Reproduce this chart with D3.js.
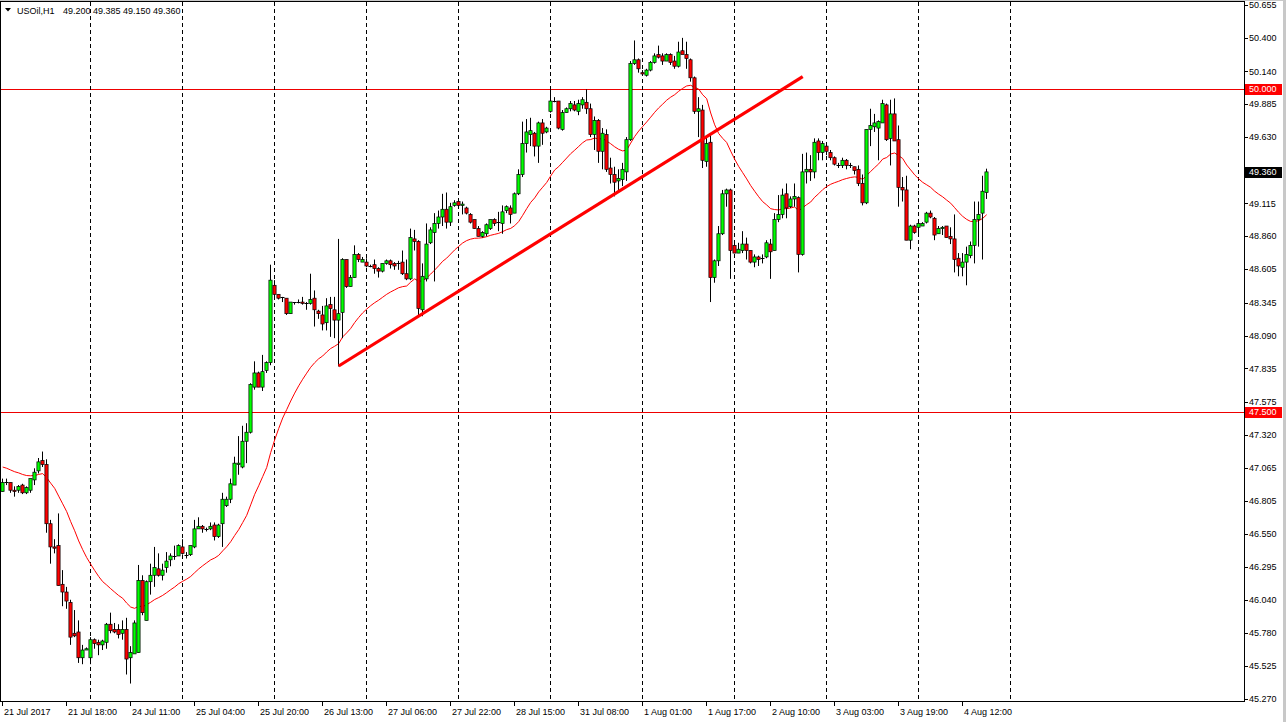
<!DOCTYPE html>
<html><head><meta charset="utf-8">
<script src="https://cdn.jsdelivr.net/npm/d3@7"></script>
<style>
body{margin:0;background:#fff}
svg{display:block}
text{font-family:"Liberation Sans",Arial,sans-serif;font-size:9px;fill:#000}
</style>
</head><body>
<svg id="chart" width="1286" height="722"></svg>
<script>
// ---- data (USOil, H1) ----
const opens=[46.88,46.95,46.95,46.89,46.89,46.93,46.87,46.89,46.97,47.04,47.12,47.09,46.63,46.45,46.46,46.16,46.10,46.02,45.78,45.79,45.59,45.65,45.59,45.73,45.71,45.69,45.71,45.85,45.81,45.81,45.78,45.81,45.59,45.62,45.63,46.19,45.88,46.18,46.23,46.28,46.23,46.29,46.35,46.38,46.38,46.45,46.39,46.39,46.45,46.59,
46.61,46.59,46.59,46.62,46.53,46.63,46.77,46.82,46.93,47.09,47.07,47.27,47.34,47.69,47.80,47.69,47.82,47.88,48.48,48.41,48.39,48.38,48.26,48.35,48.35,48.35,48.34,48.34,48.38,48.28,
48.25,48.19,48.33,48.29,48.21,48.27,48.68,48.47,48.54,48.72,48.66,48.66,48.63,48.64,48.61,48.59,48.65,48.67,48.65,48.65,48.66,48.57,48.53,48.84,48.82,48.29,48.53,48.81,48.89,48.96,
49.01,49.07,48.97,49.10,49.13,49.10,49.08,49.03,48.99,48.92,48.86,48.88,48.92,48.99,48.97,48.96,49.06,49.08,49.04,49.19,49.34,49.58,49.65,49.66,49.56,49.74,49.67,49.83,49.91,49.91,
49.69,49.82,49.85,49.88,49.83,49.88,49.90,49.85,49.65,49.76,49.52,49.65,49.39,49.34,49.29,49.30,49.36,49.61,50.20,50.23,50.13,50.11,50.15,50.21,50.27,50.26,50.22,50.27,50.22,50.18,
50.30,50.27,50.23,50.09,49.83,49.84,49.44,49.59,48.54,48.67,48.88,49.19,49.22,48.79,48.73,48.75,48.80,48.75,48.66,48.70,48.69,48.70,48.80,48.75,48.99,49.03,49.19,49.09,49.15,49.16,
48.72,49.36,49.38,49.36,49.60,49.51,49.56,49.51,49.47,49.41,49.41,49.45,49.41,49.40,49.38,49.27,49.12,49.69,49.71,49.70,49.74,49.88,49.62,49.81,49.61,49.24,49.22,48.83,48.94,48.93,
48.94,48.97,49.04,49.00,48.88,48.92,48.94,48.86,48.84,48.69,48.62,48.66,48.71,48.79,48.99,49.04,49.200];
const highs=[46.98,46.98,46.95,46.92,46.93,46.94,46.92,46.98,47.06,47.14,47.19,47.13,46.66,46.51,46.71,46.27,46.14,46.04,45.96,45.88,45.69,45.67,45.75,45.74,45.73,45.73,45.86,45.94,45.86,45.85,45.88,45.90,45.68,45.88,46.31,46.23,46.19,46.32,46.45,46.40,46.32,46.41,46.40,46.46,46.47,46.51,46.41,46.46,46.66,46.68,
46.62,46.60,46.64,46.64,46.63,46.87,46.84,46.98,47.15,47.31,47.39,47.41,47.72,47.89,47.81,47.94,47.89,48.64,48.52,48.41,48.39,48.38,48.35,48.35,48.37,48.39,48.35,48.57,48.44,48.29,
48.32,48.38,48.39,48.39,48.84,48.69,48.68,48.56,48.79,48.73,48.70,48.69,48.64,48.68,48.62,48.65,48.68,48.68,48.66,48.67,48.75,48.68,48.92,48.91,48.83,48.65,48.96,48.93,49.04,49.06,
49.19,49.20,49.12,49.14,49.14,49.13,49.09,49.04,48.99,48.94,48.90,48.96,48.99,49.00,49.05,49.10,49.10,49.10,49.20,49.38,49.75,49.77,49.78,49.67,49.75,49.77,49.71,50.00,49.94,49.91,
49.84,49.86,49.91,49.91,49.92,49.94,50.00,49.89,49.79,49.77,49.70,49.69,49.47,49.40,49.38,49.43,49.63,50.22,50.38,50.24,50.15,50.16,50.22,50.28,50.34,50.28,50.28,50.28,50.26,50.37,
50.40,50.37,50.24,50.10,49.94,49.88,49.63,49.66,48.68,48.94,49.22,49.23,49.23,48.81,48.81,48.90,48.85,48.75,48.72,48.71,48.72,48.83,48.84,49.04,49.18,49.23,49.27,49.17,49.27,49.17,
49.50,49.51,49.49,49.62,49.62,49.60,49.57,49.53,49.48,49.43,49.47,49.46,49.43,49.40,49.41,49.34,49.69,49.85,49.81,49.76,49.92,49.89,49.92,49.93,49.72,49.32,49.33,48.95,48.95,48.97,
48.97,49.05,49.06,49.01,48.94,48.94,48.94,48.93,49.03,48.73,48.73,48.78,48.82,49.13,49.13,49.33,49.385];
const lows=[46.88,46.93,46.87,46.84,46.87,46.86,46.86,46.87,46.93,47.02,47.07,46.56,46.32,46.40,46.15,45.99,45.97,45.69,45.75,45.55,45.54,45.65,45.54,45.66,45.61,45.65,45.66,45.78,45.78,45.74,45.73,45.46,45.39,45.62,45.63,45.92,45.88,46.08,46.14,46.22,46.19,46.25,46.30,46.35,46.38,46.39,46.36,46.38,46.44,46.59,
46.56,46.57,46.58,46.50,46.52,46.45,46.76,46.79,46.93,47.01,47.06,47.10,47.33,47.67,47.69,47.66,47.80,47.86,48.39,48.37,48.35,48.25,48.26,48.33,48.34,48.33,48.29,48.33,48.16,48.22,
48.13,48.13,48.08,48.07,47.85,48.07,48.46,48.47,48.54,48.66,48.66,48.62,48.62,48.57,48.54,48.58,48.64,48.61,48.60,48.60,48.56,48.52,48.52,48.75,48.24,48.24,48.51,48.80,48.51,48.92,
48.94,48.92,48.94,49.09,49.09,49.03,49.03,48.96,48.92,48.86,48.85,48.86,48.91,48.94,48.90,48.88,49.04,48.96,49.04,49.18,49.32,49.51,49.56,49.48,49.43,49.57,49.66,49.82,49.90,49.69,
49.68,49.82,49.83,49.83,49.80,49.85,49.81,49.63,49.53,49.43,49.38,49.36,49.27,49.17,49.22,49.25,49.29,49.60,50.19,50.13,50.11,50.10,50.14,50.20,50.24,50.19,50.22,50.19,50.16,50.17,
50.28,50.16,50.06,49.81,49.63,49.39,49.40,48.35,48.50,48.63,48.87,49.09,48.53,48.73,48.73,48.73,48.68,48.65,48.62,48.63,48.65,48.69,48.53,48.75,48.97,49.00,49.00,49.08,49.09,48.58,
48.71,49.27,49.29,49.31,49.45,49.45,49.49,49.45,49.41,49.39,49.39,49.38,49.39,49.34,49.25,49.10,49.11,49.56,49.67,49.45,49.74,49.60,49.41,49.60,49.09,49.13,48.83,48.76,48.88,48.88,
48.94,48.96,49.00,48.83,48.88,48.87,48.85,48.80,48.58,48.55,48.55,48.48,48.69,48.65,48.78,48.68,49.150];
const closes=[46.95,46.95,46.89,46.88,46.92,46.87,46.91,46.98,47.03,47.11,47.09,46.63,46.45,46.44,46.15,46.10,46.03,45.75,45.76,45.59,45.65,45.66,45.73,45.70,45.69,45.72,45.85,45.80,45.79,45.77,45.81,45.58,45.63,45.86,46.19,45.94,46.18,46.23,46.29,46.23,46.27,46.34,46.38,46.38,46.46,46.40,46.39,46.46,46.59,46.61,
46.59,46.59,46.61,46.53,46.62,46.82,46.82,46.94,47.10,47.10,47.27,47.34,47.71,47.80,47.69,47.81,47.88,48.52,48.41,48.38,48.39,48.26,48.35,48.35,48.35,48.34,48.34,48.37,48.29,48.26,
48.18,48.32,48.30,48.21,48.26,48.68,48.47,48.54,48.72,48.68,48.68,48.63,48.63,48.61,48.59,48.65,48.67,48.64,48.63,48.65,48.57,48.53,48.85,48.82,48.30,48.55,48.80,48.91,48.96,49.01,
49.07,48.97,49.09,49.12,49.10,49.11,49.04,48.97,48.92,48.86,48.89,48.95,48.99,48.96,48.97,49.05,49.09,49.03,49.19,49.34,49.58,49.67,49.68,49.56,49.74,49.66,49.70,49.91,49.91,49.70,
49.82,49.85,49.89,49.84,49.89,49.92,49.85,49.65,49.76,49.52,49.66,49.38,49.34,49.28,49.31,49.38,49.61,50.20,50.23,50.16,50.12,50.15,50.21,50.26,50.25,50.22,50.27,50.21,50.18,50.29,
50.27,50.24,50.09,49.83,49.85,49.45,49.58,48.54,48.67,48.88,49.19,49.22,48.75,48.73,48.76,48.80,48.75,48.66,48.70,48.68,48.69,48.81,48.74,48.99,49.03,49.18,49.08,49.15,49.17,48.72,
49.36,49.38,49.36,49.59,49.51,49.58,49.52,49.47,49.42,49.41,49.45,49.41,49.41,49.37,49.27,49.12,49.69,49.72,49.74,49.75,49.89,49.61,49.81,49.60,49.24,49.22,48.83,48.94,48.89,48.96,
48.96,49.04,49.01,48.87,48.92,48.93,48.85,48.84,48.68,48.63,48.66,48.72,48.79,48.99,49.03,49.21,49.360];

const timeLabels=["21 Jul 2017","21 Jul 18:00","24 Jul 11:00","25 Jul 04:00","25 Jul 20:00","26 Jul 13:00","27 Jul 06:00","27 Jul 22:00","28 Jul 15:00","31 Jul 08:00","1 Aug 01:00","1 Aug 17:00","2 Aug 10:00","3 Aug 03:00","3 Aug 19:00","4 Aug 12:00"];
const timeLabelBars=[0,16,32,48,64,80,96,112,128,144,160,176,192,208,224,240];
const gridBars=[22,45,68,91,114,137,160,183,206,229,252];
const priceTicks=[50.655,50.400,50.140,49.885,49.630,49.115,48.860,48.605,48.345,48.090,47.835,47.575,47.320,47.065,46.805,46.550,46.295,46.040,45.780,45.525,45.270];
const levels=[50.000,47.500];
const trendBars=[84,200];
const trendPrices=[47.854,50.099];
const emaPeriod=24;
const emaStart=47.07;
const symbol="USOil,H1";
const lastOHLC=["49.200","49.385","49.150","49.360"];

// ---- drawing ----
const svg=d3.select("#chart");
const x=d3.scaleLinear().domain([0,310]).range([2.7,1242.7]);
const y=d3.scaleLinear().domain([45.270,50.655]).range([699,5]);
const px=i=>Math.floor(x(i))+0.5;

svg.append("rect").attr("x",0).attr("y",0).attr("width",1286).attr("height",722).attr("fill","#fff");
svg.append("rect").attr("x",1283).attr("y",0).attr("width",3).attr("height",722).attr("fill","#c8c8c8");
svg.append("rect").attr("x",0).attr("y",0).attr("width",1286).attr("height",1).attr("fill","#c8c8c8");

// horizontal levels
svg.append("g").selectAll("line").data(levels).join("line")
  .attr("x1",1).attr("x2",1244).attr("y1",d=>Math.round(y(d))+0.5).attr("y2",d=>Math.round(y(d))+0.5)
  .attr("stroke","#ee0000").attr("stroke-width",1);

// vertical grid
svg.append("g").selectAll("line").data(gridBars).join("line")
  .attr("x1",d=>px(d)).attr("x2",d=>px(d)).attr("y1",2).attr("y2",701)
  .attr("stroke","#000").attr("stroke-width",1).attr("stroke-dasharray","4,3");

// EMA
const ema=[];
closes.forEach((c,i)=>{const k=2/(emaPeriod+1);ema.push(i===0?emaStart:ema[i-1]+k*(c-ema[i-1]));});
svg.append("path").datum(ema)
  .attr("d",d3.line().x((d,i)=>x(i)).y(d=>y(d)))
  .attr("fill","none").attr("stroke","#ff0000").attr("stroke-width",1);

// candles
const bars=closes.map((c,i)=>({i,o:opens[i],h:highs[i],l:lows[i],c}));
const g=svg.append("g");
g.selectAll("line.wick").data(bars).join("line").attr("class","wick")
  .attr("x1",d=>px(d.i)).attr("x2",d=>px(d.i)).attr("y1",d=>y(d.h)).attr("y2",d=>y(d.l))
  .attr("stroke","#000").attr("stroke-width",1);
bars.forEach(d=>{
  const top=y(Math.max(d.o,d.c)), bot=y(Math.min(d.o,d.c));
  if(bot-top<1.2){
    g.append("line").attr("x1",px(d.i)-2).attr("x2",px(d.i)+2).attr("y1",Math.round(top)+0.5).attr("y2",Math.round(top)+0.5)
      .attr("stroke","#000").attr("stroke-width",1);
  } else {
    g.append("rect").attr("x",px(d.i)-1.6).attr("y",top).attr("width",3.2).attr("height",bot-top)
      .attr("fill",d.c>=d.o?"#00ff00":"#ff0000").attr("stroke","#000").attr("stroke-width",0.7);
  }
});

// trend line
svg.append("line")
  .attr("x1",x(trendBars[0])).attr("y1",y(trendPrices[0]))
  .attr("x2",x(trendBars[1])).attr("y2",y(trendPrices[1]))
  .attr("stroke","#ff0000").attr("stroke-width",3.2);

// frame
svg.append("rect").attr("x",0.5).attr("y",1.5).attr("width",1244).attr("height",700)
  .attr("fill","none").attr("stroke","#000").attr("stroke-width",1);

// price axis
const pa=svg.append("g");
pa.selectAll("line").data(priceTicks).join("line")
  .attr("x1",1244).attr("x2",1248).attr("y1",d=>Math.round(y(d))+0.5).attr("y2",d=>Math.round(y(d))+0.5)
  .attr("stroke","#000");
pa.selectAll("text").data(priceTicks).join("text")
  .attr("x",1249).attr("y",d=>y(d)).attr("dy","0.35em").text(d=>d.toFixed(3));

function tag(v,bg){
  const yy=Math.round(y(v));
  svg.append("rect").attr("x",1245).attr("y",yy-5).attr("width",37).attr("height",11).attr("fill",bg);
  svg.append("text").attr("x",1249).attr("y",yy).attr("dy","0.35em").style("fill","#fff").text(v.toFixed(3));
}
levels.forEach(v=>tag(v,"#ff0000"));
tag(closes[closes.length-1],"#000");

// time axis
const ta=svg.append("g");
ta.selectAll("line").data(timeLabelBars).join("line")
  .attr("x1",d=>px(d)).attr("x2",d=>px(d)).attr("y1",701).attr("y2",706).attr("stroke","#000");
ta.selectAll("text").data(timeLabels).join("text")
  .attr("x",(d,k)=>px(timeLabelBars[k])+1.5).attr("y",715).text(d=>d);

// header
svg.append("path").attr("d","M5,8 L11,8 L8,11.5 Z").attr("fill","#000");
svg.append("text").attr("x",17).attr("y",14).text(symbol);
svg.append("text").attr("x",63).attr("y",14).text(lastOHLC.join(" "));
</script>
</body></html>
